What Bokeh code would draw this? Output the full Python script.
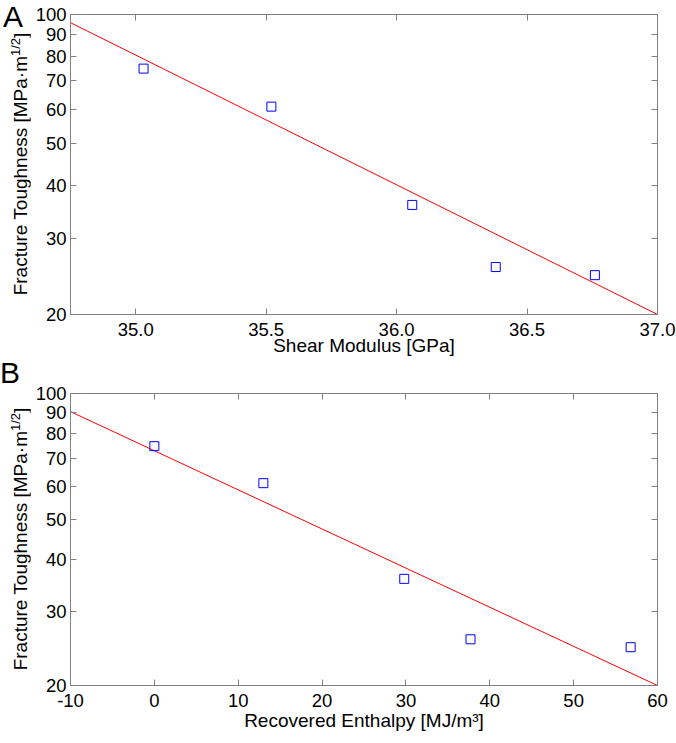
import numpy as np
from bokeh.plotting import figure
from bokeh.models import (Range1d, FixedTicker, PrintfTickFormatter, LinearAxis,
                          LogAxis, CustomJSTickFormatter, Div)
from bokeh.layouts import column, row
from bokeh.embed import file_html
from bokeh.resources import INLINE

# ---------------- data ----------------
shear_modulus = [35.03, 35.52, 36.06, 36.38, 36.76]          # GPa
recovered_enthalpy = [0.0, 13.0, 29.8, 37.7, 56.8]           # MJ/m^3
toughness = [74.8, 61.0, 36.0, 25.8, 24.7]                    # MPa m^1/2

fitA_x = [34.75, 37.0]
fitA_y = [95.7, 20.0]
fitB_x = [-10.0, 60.0]
fitB_y = [90.5, 20.0]

y_ticks = [20, 30, 40, 50, 60, 70, 80, 90, 100]
xA_ticks = [35.0, 35.5, 36.0, 36.5, 37.0]
xB_ticks = [-10, 0, 10, 20, 30, 40, 50, 60]

FONT = "Liberation Sans"
GREY = "#808080"
RED = "#ff0000"
BLUE = "#0000ff"

LAB_W = 38  # width of the narrow label strip


def style_axis(ax):
    ax.axis_line_color = GREY
    ax.major_tick_line_color = GREY
    ax.major_tick_in = 6
    ax.major_tick_out = 0
    ax.minor_tick_line_color = None
    ax.minor_tick_in = 0
    ax.minor_tick_out = 0
    ax.major_label_text_font = FONT
    ax.major_label_text_font_size = "18.5px"
    ax.major_label_text_color = "black"
    ax.axis_label_text_font = FONT
    ax.axis_label_text_font_size = "19px"
    ax.axis_label_text_font_style = "normal"
    ax.axis_label_text_color = "black"


def label_strip(letter, letter_top, letter_left, top_border, frame_h, h):
    cy = top_border + frame_h / 2.0
    html = (
        f'<div style="position:relative;width:{LAB_W}px;height:{h}px;'
        f'font-family:\'{FONT}\';color:black;">'
        f'<div style="position:absolute;left:{letter_left}px;top:{letter_top}px;'
        f'font-size:30px;line-height:22px;white-space:nowrap;">{letter}</div>'
        f'<div style="position:absolute;left:18.5px;top:{cy}px;transform-origin:0 0;'
        f'transform:rotate(-90deg) translate(-50%,0);white-space:nowrap;'
        f'font-size:19px;line-height:19px;">Fracture Toughness [MPa·m'
        f'<sup style="font-size:13px;line-height:0;vertical-align:7px;">1/2</sup>]</div>'
        f'</div>'
    )
    return Div(text=html, width=LAB_W, height=h, margin=0,
               styles={"overflow": "visible"})


def panel(xs, fit_x, fit_y, xr, xticks, xfmt, xlabel, top_border, frame_h,
          lab_standoff):
    h = top_border + frame_h + 58
    p = figure(width=684 - LAB_W, height=h, x_range=Range1d(*xr), y_range=Range1d(20, 100),
               y_axis_type="log", output_backend="svg", toolbar_location=None,
               min_border_left=40, min_border_right=19, min_border_top=top_border,
               min_border_bottom=58)
    p.xgrid.visible = False
    p.ygrid.visible = False
    p.outline_line_color = None

    p.xaxis.ticker = FixedTicker(ticks=xticks, minor_ticks=[])
    p.xaxis.formatter = PrintfTickFormatter(format=xfmt)
    p.xaxis.axis_label = xlabel
    p.xaxis.major_label_standoff = 8
    p.xaxis.axis_label_standoff = lab_standoff
    p.yaxis.ticker = FixedTicker(ticks=y_ticks, minor_ticks=[])
    p.yaxis.formatter = PrintfTickFormatter(format="%d")
    p.yaxis.major_label_standoff = 4
    style_axis(p.xaxis[0])
    style_axis(p.yaxis[0])

    blank = CustomJSTickFormatter(code="return ''")
    top = LinearAxis(ticker=FixedTicker(ticks=xticks, minor_ticks=[]), formatter=blank,
                     major_label_standoff=0)
    right = LogAxis(ticker=FixedTicker(ticks=y_ticks, minor_ticks=[]), formatter=blank,
                    major_label_standoff=0)
    style_axis(top)
    style_axis(right)
    p.add_layout(top, "above")
    p.add_layout(right, "right")

    p.line(fit_x, fit_y, line_color=RED, line_width=1)
    p.scatter(xs, toughness, marker="square", size=9, line_color=BLUE,
              fill_color=None, line_width=1)
    return p


TOP_A, FRAME_A = 22, 300
TOP_B, FRAME_B = 21, 292
hA = TOP_A + FRAME_A + 58
hB = TOP_B + FRAME_B + 58

pA = panel(shear_modulus, fitA_x, fitA_y, (34.75, 37.0), xA_ticks, "%.1f",
           "Shear Modulus [GPa]", TOP_A, FRAME_A, -4)
pB = panel(recovered_enthalpy, fitB_x, fitB_y, (-10, 60), xB_ticks, "%d",
           "Recovered Enthalpy [MJ/m³]", TOP_B, FRAME_B, 0)
sA = label_strip("A", 14, 11, TOP_A, FRAME_A, hA)
sB = label_strip("B", -10, 8, TOP_B, FRAME_B, hB)

layout = column(row(sA, pA, spacing=0), row(sB, pB, spacing=0), spacing=0,
                margin=(-8, -8, -8, -8))
open("out.html", "w").write(file_html(layout, INLINE))
